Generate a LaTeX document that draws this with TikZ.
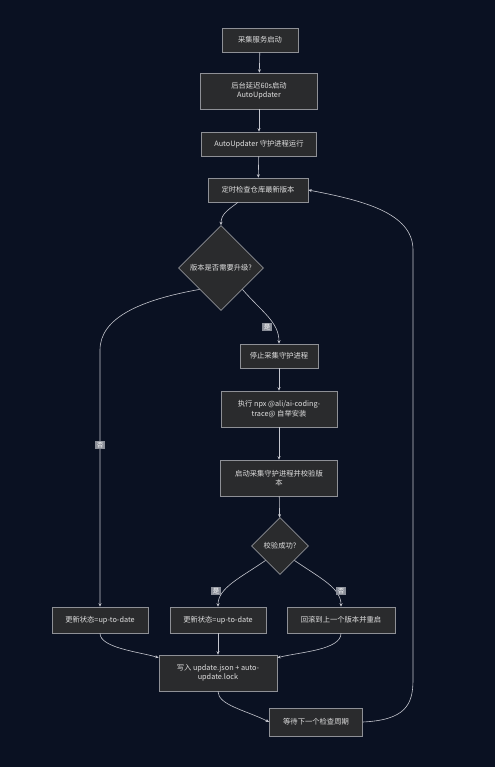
\documentclass[tikz,border=0pt]{standalone}
\usepackage{fontspec}
\setmainfont{Noto Sans CJK SC}
\usetikzlibrary{shapes.geometric}
\usetikzlibrary{arrows.meta}

\definecolor{bgnavy}{HTML}{0A1122}
\definecolor{boxfill}{HTML}{2A2B2D}
\definecolor{boxline}{HTML}{8E9096}
\definecolor{wire}{HTML}{C4C6CE}
\definecolor{lblfill}{HTML}{8A8E98}

\begin{document}
\begin{tikzpicture}[x=1pt, y=-1pt]%
	\tikzstyle{box}=[rectangle, draw=boxline, fill=boxfill, text=white!88!black, font=\fontsize{7.3}{9.5}\selectfont, align=center, minimum height=24pt, inner sep=2pt, line width=0.6pt];
	\tikzstyle{tallbox}=[box, minimum height=36pt];
	\tikzstyle{choice}=[diamond, draw=boxline, fill=boxfill, text=white!88!black, font=\fontsize{7.3}{9.5}\selectfont, inner sep=0pt, aspect=1, line width=0.6pt];
	\tikzstyle{wirearrow}=[draw=wire, line width=0.6pt, -{Stealth[length=3.5pt, width=3pt]}];
	\tikzstyle{lbl}=[rectangle, fill=lblfill, text=white, font=\fontsize{6.5}{7.5}\selectfont, inner sep=1.5pt];
	\fill[bgnavy] (0,0) rectangle (495,767);
	\useasboundingbox (0,0) rectangle (495,767);
	% main column
	\node[box, minimum width=76pt] (start) at (260, 40) {采集服务启动};
	\node[tallbox, minimum width=117pt] (delay) at (259, 91) {后台延迟60s启动\\AutoUpdater};
	\node[box, minimum width=115pt] (daemon) at (259, 144) {AutoUpdater 守护进程运行};
	\node[box, minimum width=100pt] (check) at (258, 190) {定时检查仓库最新版本};
	\node[choice, minimum width=85pt, minimum height=85pt] (needup) at (221, 268) {版本是否需要升级?};
	\node[box, minimum width=78pt] (stop) at (279, 356) {停止采集守护进程};
	\node[tallbox, minimum width=116pt] (install) at (279, 409) {执行 npx @ali/ai-coding-\\trace@ 自举安装};
	\node[tallbox, minimum width=117pt] (verify) at (279, 478) {启动采集守护进程并校验版\\本};
	\node[choice, minimum width=57pt, minimum height=57pt] (ok) at (280, 546) {校验成功?};
	% results
	\node[box, minimum width=96pt, minimum height=26pt] (skip) at (100, 620) {更新状态=up-to-date};
	\node[box, minimum width=96pt, minimum height=26pt] (done) at (218, 620) {更新状态=up-to-date};
	\node[box, minimum width=108pt, minimum height=26pt] (rollback) at (341, 620) {回滚到上一个版本并重启};
	\node[tallbox, minimum width=118pt] (write) at (218, 673) {写入 update.json + auto-\\update.lock};
	\node[box, minimum width=93pt, minimum height=28pt] (wait) at (316, 722) {等待下一个检查周期};
	% connectors
	\draw[wirearrow] (start) -- (delay);
	\draw[wirearrow] (delay) -- (daemon);
	\draw[wirearrow] (daemon) -- (check);
	\draw[wirearrow] ([xshift=-20pt]check.south) .. controls (228,210) and (221,214) .. (needup.north);
	\draw[wirearrow] (needup.south east) .. controls (262,312) and (279,322) .. (stop.north);
	\draw[wirearrow] (needup.south west) .. controls (140,300) and (100,318) .. (100,350) -- (skip.north);
	\draw[wirearrow] (stop) -- (install);
	\draw[wirearrow] (install) -- (verify);
	\draw[wirearrow] (verify) -- (ok);
	\draw[wirearrow] (ok.south west) .. controls (240,578) and (218,588) .. (done.north);
	\draw[wirearrow] (ok.south east) .. controls (320,578) and (341,588) .. (rollback.north);
	\draw[wirearrow] (skip.south) .. controls (100,648) and (140,652) .. ([yshift=-3pt]write.north west);
	\draw[wirearrow] (done) -- (write);
	\draw[wirearrow] (rollback.south) .. controls (341,650) and (300,652) .. ([yshift=-3pt]write.north east);
	\draw[wirearrow] (write.south) .. controls (218,705) and (245,710) .. (wait.west);
	\draw[wirearrow] (wait.east) .. controls (405,720) and (413,705) .. (413,680) -- (413,250) .. controls (413,212) and (360,200) .. (check.east);
	% branch labels
	\node[lbl] (yes1) at (267, 327) {是};
	\node[lbl] (no1) at (100, 445) {否};
	\node[lbl] (yes2) at (216, 591) {是};
	\node[lbl] (no2) at (341, 591) {否};
\end{tikzpicture}
\end{document}
